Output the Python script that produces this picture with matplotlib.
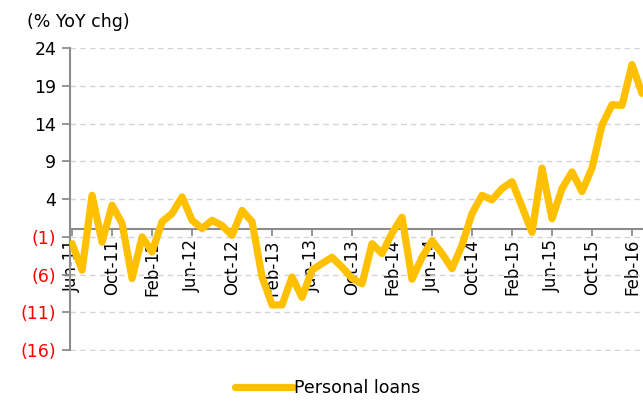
import matplotlib.pyplot as plt
import numpy as np

# monthly data, Jun-11 .. Mar-16
months = ['Jun-11', 'Jul-11', 'Aug-11', 'Sep-11', 'Oct-11', 'Nov-11', 'Dec-11',
          'Jan-12', 'Feb-12', 'Mar-12', 'Apr-12', 'May-12', 'Jun-12', 'Jul-12',
          'Aug-12', 'Sep-12', 'Oct-12', 'Nov-12', 'Dec-12',
          'Jan-13', 'Feb-13', 'Mar-13', 'Apr-13', 'May-13', 'Jun-13', 'Jul-13',
          'Aug-13', 'Sep-13', 'Oct-13', 'Nov-13', 'Dec-13',
          'Jan-14', 'Feb-14', 'Mar-14', 'Apr-14', 'May-14', 'Jun-14', 'Jul-14',
          'Aug-14', 'Sep-14', 'Oct-14', 'Nov-14', 'Dec-14',
          'Jan-15', 'Feb-15', 'Mar-15', 'Apr-15', 'May-15', 'Jun-15', 'Jul-15',
          'Aug-15', 'Sep-15', 'Oct-15', 'Nov-15', 'Dec-15',
          'Jan-16', 'Feb-16', 'Mar-16']
personal_loans = [-1.9, -5.4, 4.5, -1.7, 3.2, 0.8, -6.5,
                  -1.0, -3.0, 1.0, 2.1, 4.3, 1.2, 0.1, 1.2, 0.5, -0.8, 2.5, 1.0,
                  -6.3, -10.0, -10.0, -6.3, -9.0, -5.4, -4.5, -3.7, -5.0, -6.5, -7.2, -1.9,
                  -3.2, -0.5, 1.6, -6.6, -3.7, -1.5, -3.2, -5.2, -2.1, 2.1, 4.5, 3.9,
                  5.4, 6.3, 3.0, -0.4, 8.1, 1.4, 5.4, 7.6, 5.0, 8.1, 13.8, 16.5,
                  16.4, 21.8, 18.0]
yticks = [-16, -11, -6, -1, 4, 9, 14, 19, 24]

x = np.arange(len(months))

fig = plt.figure(figsize=(6.43, 4.03), dpi=100)
ax = fig.add_axes([0.109, 0.128, 0.891, 0.753])

ax.plot(x, personal_loans, color='#FFC000', lw=5.2, solid_joinstyle='round',
        solid_capstyle='round', label='Personal loans', zorder=3)

ax.set_xlim(-0.2, 57.1)
ax.set_ylim(-16.15, 24)

# y axis
ax.set_yticks(yticks)
ylabels = [f'({abs(v)})' if v < 0 else str(v) for v in yticks]
ax.set_yticklabels(ylabels, fontsize=12.5)
for lab, v in zip(ax.get_yticklabels(), yticks):
    lab.set_color('red' if v < 0 else 'black')
ax.grid(axis='y', color='#d4d4d4', ls=(0, (4, 3)), lw=1)
ax.set_axisbelow(True)

# x axis sits on zero
ax.spines['bottom'].set_position(('data', 0))
ax.spines['top'].set_visible(False)
ax.spines['right'].set_visible(False)
ax.spines['left'].set_bounds(-16, 24)
for s in ['left', 'bottom']:
    ax.spines[s].set_color('#8c8c8c')
    ax.spines[s].set_linewidth(1.5)
ax.set_xticks(x[::4])
ax.set_xticklabels(months[::4], rotation=90, fontsize=12, va='top', ha='center')
ax.tick_params(axis='x', length=5, width=1.3, color='#8c8c8c', pad=2)
ax.tick_params(axis='y', length=6, width=1.3, color='#8c8c8c', pad=4)

fig.text(0.042, 0.945, '(% YoY chg)', fontsize=12.5, ha='left', va='center')

fig.legend(loc='center', bbox_to_anchor=(0.51, 0.037), frameon=False, fontsize=12.5,
           handlelength=3.3, handletextpad=0.1)

plt.savefig('out.png', dpi=100)
